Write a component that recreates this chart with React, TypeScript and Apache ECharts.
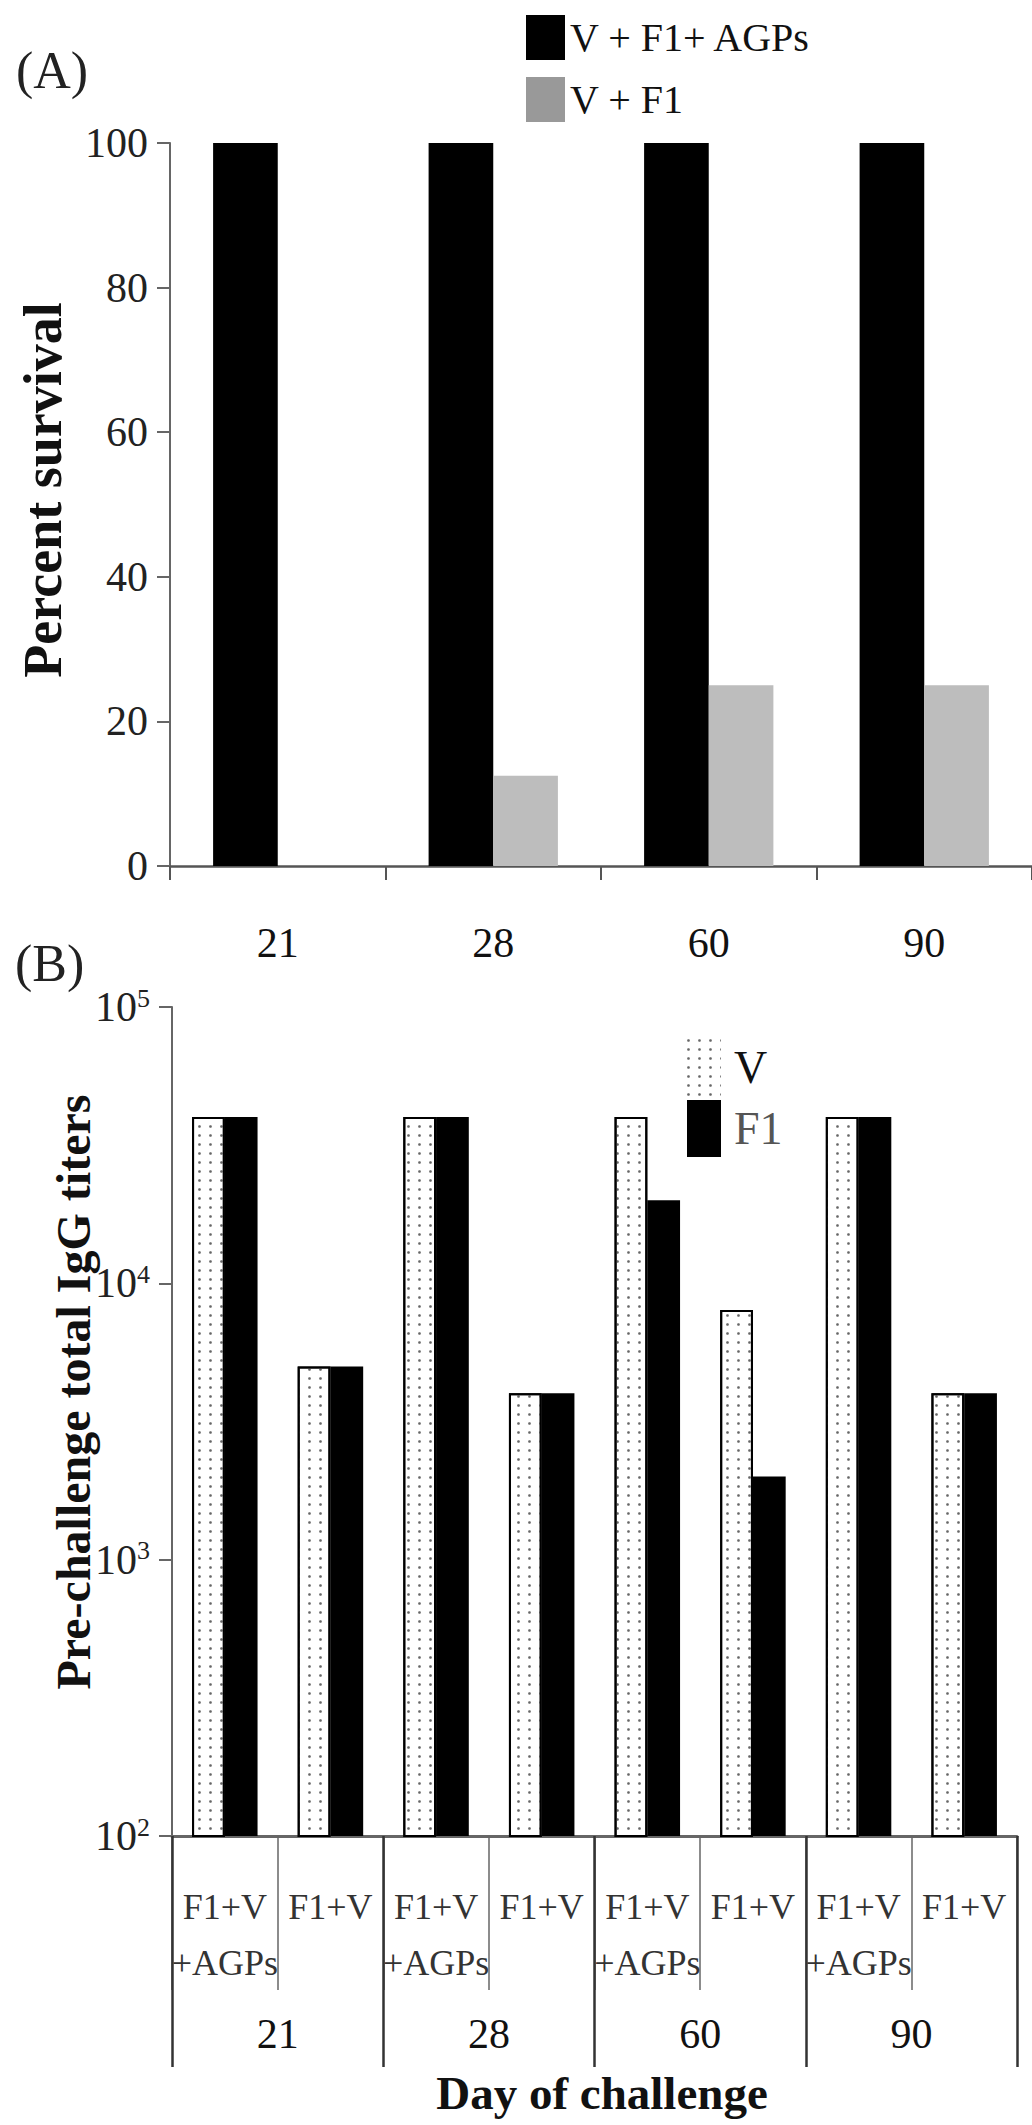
import React, { useEffect, useRef } from "react";
import * as echarts from "echarts";

const FONT = '"Liberation Serif", "Times New Roman", serif';

// Panel A: percent survival
const dayLabels = ["21", "28", "60", "90"];
const survivalAGP = [100, 100, 100, 100];
const survivalNoAGP = [0, 12.5, 25, 25];
const survivalTicksInterval = 20;

// Panel B: pre-challenge IgG titers
const groupLabels = [
  "F1+V\n+AGPs", "F1+V",
  "F1+V\n+AGPs", "F1+V",
  "F1+V\n+AGPs", "F1+V",
  "F1+V\n+AGPs", "F1+V",
];
const titerV = [40000, 5000, 40000, 4000, 40000, 8000, 40000, 4000];
const titerF1 = [40000, 5000, 40000, 4000, 20000, 2000, 40000, 4000];
const logExponents = [2, 3, 4, 5];

export default function App() {
  const ref = useRef<HTMLDivElement>(null);

  useEffect(() => {
    if (!ref.current) return;
    const chart = echarts.init(ref.current, undefined, { renderer: "svg" });
    const axisGray = "#666";
    const option: any = {
      animation: false,
      backgroundColor: "#fff",
      textStyle: { fontFamily: FONT },
      grid: [
        { left: 170, top: 143, width: 862, height: 723 },
        { left: 172, top: 1007, width: 845, height: 829 },
      ],
      legend: [
        {
          orient: "vertical",
          left: 526,
          top: 15,
          padding: 0,
          itemWidth: 39,
          itemHeight: 45,
          itemGap: 17,
          icon: "rect",
          selectedMode: false,
          data: [
            { name: "V + F1+ AGPs" },
            { name: "V + F1", itemStyle: { color: "#999" } },
          ],
          textStyle: { fontSize: 40, fontFamily: FONT, color: "#111" },
        },
        {
          orient: "vertical",
          left: 687,
          top: 1039,
          padding: 0,
          itemWidth: 34,
          itemHeight: 57,
          itemGap: 4,
          icon: "rect",
          selectedMode: false,
          data: [
            { name: "V", itemStyle: { borderWidth: 0 } },
            { name: "F1", textStyle: { color: "#555" } },
          ],
          textStyle: { fontSize: 46, fontFamily: FONT, color: "#111", padding: [0, 0, 0, 8] },
        },
      ],
      xAxis: [
        {
          type: "category",
          gridIndex: 0,
          data: dayLabels,
          axisLine: { show: true, lineStyle: { color: "#555", width: 2.5 } },
          axisTick: { show: true, length: 14, lineStyle: { color: "#555", width: 2 } },
          axisLabel: { margin: 56, fontSize: 42, color: "#111", fontFamily: FONT },
        },
        {
          type: "category",
          gridIndex: 1,
          data: groupLabels,
          axisLine: { show: true, lineStyle: { color: axisGray, width: 3 } },
          axisTick: { show: true, length: 154, lineStyle: { color: axisGray, width: 1.5 } },
          axisLabel: {
            interval: 0,
            margin: 43,
            fontSize: 36,
            lineHeight: 56,
            color: "#333",
            fontFamily: FONT,
          },
        },
        {
          type: "category",
          gridIndex: 1,
          position: "bottom",
          data: dayLabels,
          axisLine: { show: false },
          axisTick: { show: true, length: 231, lineStyle: { color: "#333", width: 2.5 } },
          axisLabel: { margin: 177, fontSize: 42, color: "#111", fontFamily: FONT },
        },
      ],
      yAxis: [
        {
          type: "value",
          gridIndex: 0,
          min: 0,
          max: 100,
          interval: survivalTicksInterval,
          axisLine: { show: true, lineStyle: { color: axisGray, width: 2 } },
          axisTick: { show: true, length: 13, lineStyle: { color: axisGray, width: 2 } },
          splitLine: { show: false },
          axisLabel: { margin: 22, fontSize: 42, color: "#222", fontFamily: FONT },
        },
        {
          type: "log",
          gridIndex: 1,
          logBase: 10,
          min: Math.pow(10, logExponents[0]),
          max: Math.pow(10, logExponents[logExponents.length - 1]),
          axisLine: { show: true, lineStyle: { color: axisGray, width: 2 } },
          axisTick: { show: true, length: 13, lineStyle: { color: axisGray, width: 2 } },
          minorTick: { show: false },
          splitLine: { show: false },
          axisLabel: {
            margin: 22,
            formatter: (v: number) => {
              const e = Math.round(Math.log10(v));
              return logExponents.indexOf(e) >= 0 ? `{b|10}{s|${e}}` : "";
            },
            rich: {
              b: { fontSize: 42, lineHeight: 44, color: "#222", fontFamily: FONT },
              s: { fontSize: 26, lineHeight: 26, verticalAlign: "top", color: "#222", fontFamily: FONT },
            },
          },
        },
      ],
      series: [
        {
          type: "bar",
          name: "V + F1+ AGPs",
          xAxisIndex: 0,
          yAxisIndex: 0,
          data: survivalAGP,
          barGap: "0%",
          barCategoryGap: "40%",
          itemStyle: { color: "#000" },
        },
        {
          type: "bar",
          name: "V + F1",
          xAxisIndex: 0,
          yAxisIndex: 0,
          data: survivalNoAGP,
          barGap: "0%",
          barCategoryGap: "40%",
          itemStyle: { color: "#bdbdbd" },
        },
        {
          type: "bar",
          name: "V",
          xAxisIndex: 1,
          yAxisIndex: 1,
          data: titerV,
          barGap: "0%",
          barCategoryGap: "38%",
          itemStyle: {
            color: "#fff",
            borderColor: "#000",
            borderWidth: 2,
            decal: {
              symbol: "circle",
              symbolSize: 0.9,
              color: "#666",
              dashArrayX: [3, 8],
              dashArrayY: [3, 6],
              rotation: 0,
            },
          },
        },
        {
          type: "bar",
          name: "F1",
          xAxisIndex: 1,
          yAxisIndex: 1,
          data: titerF1,
          barGap: "0%",
          barCategoryGap: "38%",
          itemStyle: { color: "#000" },
        },
      ],
      graphic: [
        {
          type: "text",
          left: 16,
          top: 44,
          style: { text: "(A)", fontSize: 52, fontFamily: FONT, fill: "#222" },
        },
        {
          type: "text",
          left: 15,
          top: 937,
          style: { text: "(B)", fontSize: 52, fontFamily: FONT, fill: "#222" },
        },
        {
          type: "text",
          x: 43,
          y: 490,
          rotation: Math.PI / 2,
          style: {
            text: "Percent survival",
            fontSize: 54,
            fontWeight: "bold",
            fontFamily: FONT,
            fill: "#111",
            align: "center",
            verticalAlign: "middle",
          },
        },
        {
          type: "text",
          x: 73,
          y: 1392,
          rotation: Math.PI / 2,
          style: {
            text: "Pre-challenge total IgG titers",
            fontSize: 48,
            fontWeight: "bold",
            fontFamily: FONT,
            fill: "#111",
            align: "center",
            verticalAlign: "middle",
          },
        },
        {
          type: "text",
          x: 602,
          y: 2093,
          style: {
            text: "Day of challenge",
            fontSize: 47,
            fontWeight: "bold",
            fontFamily: FONT,
            fill: "#111",
            align: "center",
            verticalAlign: "middle",
          },
        },
      ],
    };
    chart.setOption(option);
    return () => chart.dispose();
  }, []);

  return (
    <div
      ref={ref}
      style={{ position: "absolute", left: 0, top: 0, width: 1032, height: 2125, background: "#fff" }}
    />
  );
}
